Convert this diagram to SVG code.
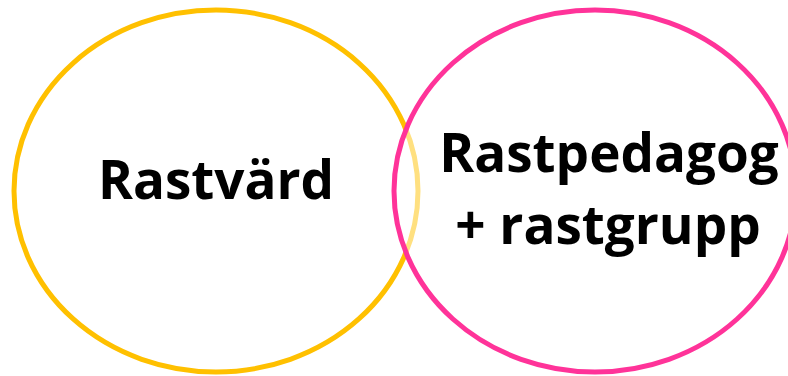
<svg xmlns="http://www.w3.org/2000/svg" width="788" height="376" viewBox="0 0 788 376">
<style>
.lbl{font-family:"Open Sans","Liberation Sans",sans-serif;font-weight:700;font-size:53px;fill:#000;text-anchor:middle}
</style>
<rect width="788" height="376" fill="#fff"/>
<g id="rastvard">
<ellipse cx="216" cy="191" rx="202" ry="181" fill="none" stroke="#FFC000" stroke-width="5"/>
<text class="lbl" x="216" y="199">Rastvärd</text>
</g>
<g id="rastpedagog">
<ellipse cx="595" cy="191" rx="201" ry="181" fill="#fff" fill-opacity="0.5" stroke="#FF3399" stroke-width="5"/>
<text class="lbl" x="609" y="172">Rastpedagog</text>
<text class="lbl" x="608" y="244">+ rastgrupp</text>
</g>
<g id="connectors"/>
</svg>
